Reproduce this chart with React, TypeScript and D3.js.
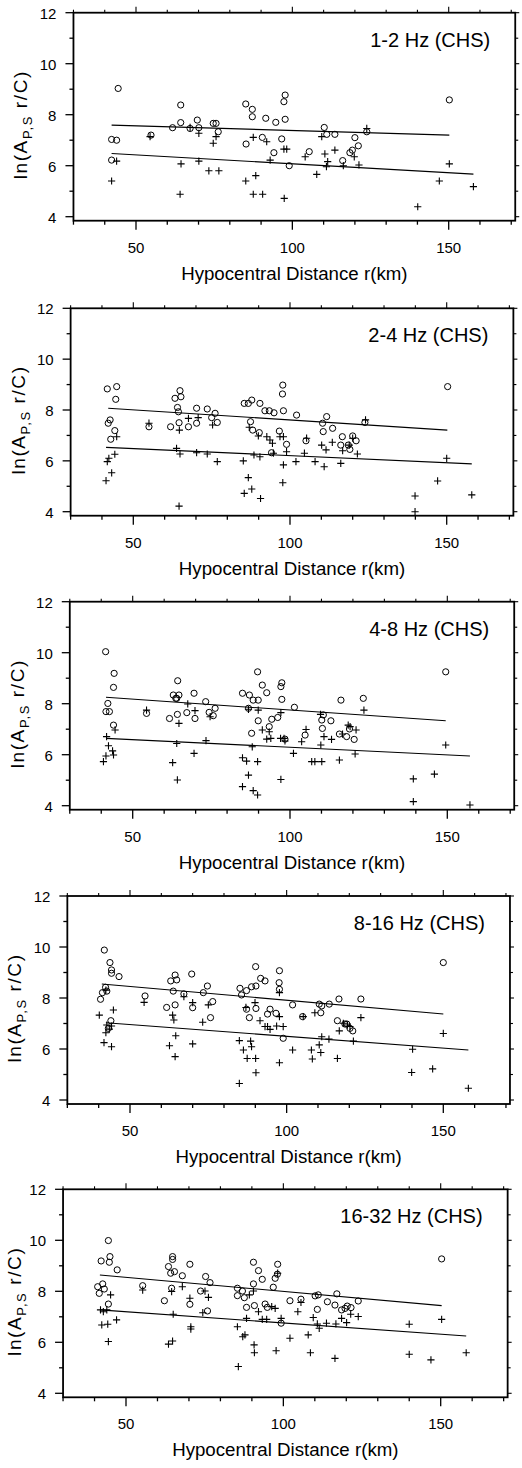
import React from 'react';
import * as d3 from 'd3';

type Pt = [number, number];

const panelLabels = ['1-2 Hz (CHS)', '2-4 Hz (CHS)', '4-8 Hz (CHS)', '8-16 Hz (CHS)', '16-32 Hz (CHS)'];
const xLabelTicks = [50, 100, 150];
const xMinorTicks = [30, 40, 60, 70, 80, 90, 110, 120, 130, 140, 160, 170];
const yLabelTicks = [4, 6, 8, 10, 12];
const yMinorTicks = [5, 7, 9, 11];
const xTitle = 'Hypocentral Distance r(km)';

// ---- Panel 1: 1-2 Hz ----
const p1Circles: Pt[] = [
  [44.3, 9.03], [42.2, 7.03], [43.8, 7.0], [42.2, 6.22], [54.8, 7.2], [61.7, 7.49], [64.3, 8.38], [64.3, 7.69],
  [67.3, 7.46], [69.6, 7.79], [70.1, 7.49], [74.7, 7.66], [75.6, 7.66], [76.3, 7.33], [85.1, 8.42], [87.2, 8.21],
  [87.2, 7.92], [91.5, 7.86], [94.7, 7.7], [97.7, 8.77], [97.3, 8.51], [97.7, 7.82], [96.6, 7.05], [90.4, 7.11],
  [85.2, 6.85], [94.1, 6.51], [99.0, 6.0], [105.4, 6.55], [110.2, 7.5], [111.0, 7.23], [113.6, 7.23], [116.1, 6.2],
  [118.4, 6.51], [119.2, 6.61], [120.0, 7.1], [121.1, 6.78], [123.8, 7.33], [150.2, 8.58],
];
const p1Crosses: Pt[] = [
  [42.2, 5.4], [43.8, 6.18], [54.5, 7.14], [64.4, 6.07], [64.1, 4.88], [67.3, 7.5], [70.1, 7.27], [70.1, 6.18],
  [73.3, 5.8], [76.5, 5.8], [74.7, 6.88], [75.6, 7.14], [85.1, 5.4], [87.5, 7.11], [88.3, 5.61], [87.5, 4.88],
  [90.5, 4.88], [91.8, 6.94], [92.9, 6.22], [97.3, 6.65], [98.2, 6.65], [97.4, 4.72], [104.1, 6.35], [107.8, 5.66],
  [109.4, 7.14], [110.4, 6.46], [111.3, 6.16], [110.9, 5.96], [113.6, 6.61], [116.3, 6.0], [119.8, 6.35], [121.3, 6.03],
  [123.8, 7.46], [140.1, 4.39], [147.0, 5.4], [150.2, 6.07], [157.9, 5.18],
];
const p1CircleFit: Pt[] = [[42.2, 7.59], [150.2, 7.2]];
const p1CrossFit: Pt[] = [[42.2, 6.48], [157.9, 5.67]];

// ---- Panel 2: 2-4 Hz ----
const p2Circles: Pt[] = [
  [41.7, 8.83], [44.7, 8.92], [44.4, 8.42], [42.6, 7.61], [42.0, 7.48], [42.8, 6.85], [44.1, 7.19], [55.0, 7.34],
  [61.9, 7.34], [63.3, 8.46], [64.9, 8.76], [65.2, 8.52], [64.1, 8.1], [64.4, 7.93], [64.6, 7.5], [67.6, 7.34],
  [70.2, 8.07], [70.2, 7.48], [73.6, 8.04], [75.0, 7.7], [76.1, 7.87], [76.8, 7.51], [85.4, 8.26], [86.7, 8.26],
  [87.8, 8.39], [87.4, 7.54], [88.1, 7.21], [90.4, 8.26], [90.2, 7.11], [92.0, 7.97], [93.4, 7.97], [94.9, 7.89],
  [94.1, 6.32], [96.6, 7.17], [97.7, 8.98], [97.6, 8.63], [97.9, 7.97], [98.9, 6.65], [102.1, 7.8], [105.1, 6.79],
  [110.4, 7.48], [111.7, 7.74], [110.6, 7.15], [113.6, 7.28], [116.7, 6.95], [116.2, 6.62], [118.6, 6.62], [119.1, 6.45],
  [120.0, 6.98], [121.1, 6.79], [123.9, 7.51], [150.3, 8.92],
];
const p2Crosses: Pt[] = [
  [41.3, 5.22], [41.7, 5.97], [42.2, 6.1], [43.1, 5.53], [44.1, 6.26], [44.7, 6.95], [55.0, 7.48], [63.8, 6.49],
  [64.7, 7.21], [64.9, 6.27], [64.6, 4.22], [67.6, 7.67], [70.2, 6.32], [70.7, 7.7], [73.6, 6.27], [75.3, 7.41],
  [76.8, 5.97], [85.1, 6.0], [85.4, 4.72], [86.7, 5.34], [87.8, 4.89], [87.0, 7.32], [88.5, 6.23], [90.4, 6.16],
  [90.6, 4.52], [89.9, 6.98], [92.6, 6.95], [93.6, 6.82], [94.4, 6.69], [94.7, 6.3], [96.8, 6.95], [97.9, 6.95],
  [97.9, 5.84], [97.7, 5.14], [98.9, 6.36], [101.9, 5.97], [104.6, 6.3], [105.3, 6.89], [108.0, 5.97], [110.1, 6.62],
  [110.9, 5.77], [111.5, 6.43], [113.5, 6.73], [116.2, 5.9], [116.8, 6.4], [118.9, 6.62], [120.0, 6.89], [121.5, 6.27],
  [124.1, 7.61], [139.9, 4.62], [139.9, 4.0], [147.1, 5.21], [150.0, 6.1], [158.0, 4.66],
];
const p2CircleFit: Pt[] = [[42.0, 8.07], [150.2, 7.21]];
const p2CrossFit: Pt[] = [[41.3, 6.53], [158.0, 5.88]];

// ---- Panel 3: 4-8 Hz ----
const p3Circles: Pt[] = [
  [41.4, 10.04], [44.1, 9.19], [43.9, 8.64], [42.1, 8.01], [41.5, 7.69], [42.6, 7.69], [43.9, 7.16], [54.4, 7.62],
  [61.7, 7.42], [62.9, 8.34], [63.7, 8.21], [64.3, 8.9], [64.7, 8.34], [64.0, 8.21], [64.2, 7.58], [67.2, 7.65],
  [69.5, 8.41], [69.8, 7.42], [73.2, 8.08], [74.3, 7.66], [75.6, 7.53], [76.2, 7.82], [84.9, 8.41], [87.1, 8.34],
  [88.3, 8.14], [89.9, 8.14], [86.8, 7.82], [89.7, 9.25], [89.9, 7.33], [87.8, 6.84], [91.2, 8.73], [92.6, 8.43],
  [93.4, 7.1], [94.2, 7.39], [96.1, 7.46], [97.4, 8.82], [97.1, 8.67], [97.4, 8.17], [98.4, 6.61], [101.4, 7.86],
  [104.8, 6.77], [110.1, 7.36], [110.6, 7.56], [110.3, 7.03], [113.0, 7.33], [116.2, 8.14], [115.7, 6.81], [118.0, 6.71],
  [118.9, 7.01], [120.4, 6.6], [123.3, 8.21], [149.5, 9.25],
];
const p3Crosses: Pt[] = [
  [40.7, 5.73], [41.5, 5.95], [41.7, 6.71], [42.3, 6.35], [43.9, 5.99], [44.4, 6.97], [43.6, 6.15], [54.4, 7.75],
  [62.7, 5.69], [64.0, 6.44], [64.2, 5.01], [64.7, 7.23], [67.5, 7.99], [69.5, 6.05], [69.8, 7.73], [73.3, 6.55],
  [74.6, 7.49], [84.9, 5.88], [84.9, 4.75], [86.2, 5.75], [86.8, 5.2], [86.8, 7.78], [88.0, 6.31], [88.3, 4.59],
  [89.7, 4.42], [89.7, 5.73], [89.9, 7.75], [91.2, 6.97], [92.6, 6.61], [93.9, 6.64], [93.4, 6.9], [97.0, 6.64],
  [98.1, 6.64], [97.1, 7.65], [97.1, 5.03], [98.4, 6.54], [101.1, 6.05], [103.7, 6.51], [105.1, 6.99], [106.9, 5.73],
  [107.9, 5.73], [109.8, 6.38], [110.1, 5.73], [109.7, 7.58], [110.8, 6.71], [113.2, 6.6], [115.7, 5.79], [116.7, 6.81],
  [118.5, 7.16], [119.1, 7.1], [121.0, 6.97], [120.7, 6.03], [123.5, 7.75], [139.2, 5.05], [139.2, 4.16], [145.9, 5.24],
  [149.5, 6.38], [157.2, 4.03],
];
const p3CircleFit: Pt[] = [[41.5, 8.25], [149.5, 7.33]];
const p3CrossFit: Pt[] = [[41.5, 6.64], [157.2, 5.95]];

// ---- Panel 4: 8-16 Hz ----
const p4Circles: Pt[] = [
  [41.8, 9.88], [40.6, 7.95], [41.2, 8.21], [42.2, 8.42], [42.6, 8.27], [43.6, 9.39], [44.1, 9.1], [44.1, 8.97],
  [46.5, 8.84], [43.9, 7.11], [43.1, 6.81], [54.8, 8.08], [61.7, 7.63], [63.0, 8.67], [63.8, 8.27], [64.4, 8.9],
  [64.9, 8.71], [64.4, 7.73], [67.2, 8.16], [69.7, 8.94], [70.0, 7.62], [73.4, 8.21], [74.7, 8.47], [75.7, 7.23],
  [76.4, 7.86], [85.1, 8.38], [85.6, 8.12], [87.2, 8.29], [88.8, 8.44], [87.2, 7.56], [88.1, 7.23], [90.1, 9.23],
  [90.2, 8.47], [90.2, 7.59], [91.7, 8.77], [93.1, 8.67], [94.7, 7.56], [93.9, 7.37], [96.6, 7.4], [97.7, 9.07],
  [97.6, 8.6], [97.7, 8.34], [98.9, 6.42], [101.9, 7.73], [105.1, 7.27], [110.4, 7.76], [110.9, 7.42], [111.2, 7.69],
  [113.6, 7.76], [116.7, 7.96], [116.2, 7.11], [118.6, 6.98], [119.2, 6.98], [120.2, 6.81], [121.1, 6.71], [123.7, 7.96],
  [150.0, 9.39],
];
const p4Crosses: Pt[] = [
  [40.2, 7.33], [41.7, 6.25], [42.3, 6.64], [42.6, 6.94], [42.3, 8.31], [43.4, 6.78], [44.1, 6.09], [44.7, 7.53],
  [44.1, 6.9], [54.5, 7.83], [62.6, 6.13], [63.6, 7.33], [64.4, 5.7], [64.6, 6.52], [64.0, 7.14], [67.2, 8.05],
  [70.0, 6.2], [70.0, 7.82], [73.2, 7.05], [75.0, 7.73], [84.9, 6.33], [84.9, 4.65], [86.2, 5.96], [87.4, 5.63],
  [87.0, 7.63], [88.5, 6.31], [88.8, 6.09], [90.1, 5.63], [90.2, 5.07], [89.9, 7.82], [91.5, 7.11], [93.1, 6.88],
  [93.9, 6.88], [94.7, 6.77], [96.8, 6.9], [98.9, 6.88], [97.7, 7.27], [97.7, 5.46], [97.7, 8.21], [101.9, 5.96],
  [105.3, 7.27], [107.9, 5.96], [108.2, 5.61], [109.0, 7.42], [110.4, 6.16], [110.9, 5.86], [111.2, 6.48], [113.5, 6.39],
  [116.2, 5.63], [116.8, 6.71], [118.1, 7.01], [119.4, 6.94], [120.2, 6.88], [121.3, 6.31], [123.7, 7.23], [140.2, 5.99],
  [139.9, 5.08], [146.6, 5.22], [150.0, 6.61], [158.0, 4.46],
];
const p4CircleFit: Pt[] = [[41.0, 8.55], [150.0, 7.37]];
const p4CrossFit: Pt[] = [[42.3, 7.03], [158.0, 5.96]];

// ---- Panel 5: 16-32 Hz ----
const p5Circles: Pt[] = [
  [44.4, 9.99], [42.1, 9.19], [44.9, 9.36], [44.7, 9.14], [47.2, 8.84], [41.0, 8.18], [41.5, 7.92], [42.6, 8.29],
  [43.1, 8.09], [44.4, 7.5], [55.3, 8.22], [62.2, 7.63], [63.5, 8.97], [64.8, 9.36], [64.8, 9.25], [64.2, 8.71],
  [65.4, 8.77], [64.5, 8.12], [67.9, 8.61], [70.3, 9.06], [70.3, 7.49], [73.7, 8.01], [75.3, 8.58], [76.7, 8.34],
  [75.9, 7.23], [85.4, 8.12], [85.4, 7.83], [87.0, 8.01], [87.6, 7.75], [88.3, 7.37], [90.5, 9.14], [90.5, 8.29],
  [90.8, 7.44], [92.1, 8.81], [93.3, 8.47], [94.2, 7.5], [94.9, 7.37], [96.8, 8.16], [97.4, 8.51], [98.2, 9.06],
  [98.1, 8.67], [99.3, 6.75], [102.1, 7.63], [105.6, 7.69], [110.1, 7.82], [111.1, 7.86], [110.8, 7.29], [114.0, 7.59],
  [116.4, 7.46], [117.0, 7.9], [118.5, 7.27], [119.6, 7.33], [120.3, 7.42], [121.5, 7.36], [123.8, 7.62], [150.3, 9.27],
];
const p5Crosses: Pt[] = [
  [41.9, 7.27], [42.3, 6.68], [42.8, 7.2], [43.9, 7.27], [44.2, 6.71], [44.4, 6.03], [45.1, 7.86], [47.0, 6.88],
  [55.3, 8.05], [63.5, 5.93], [64.8, 6.05], [64.5, 7.99], [65.0, 7.1], [67.9, 8.18], [70.3, 7.73], [70.6, 6.61],
  [70.6, 6.52], [74.4, 7.16], [75.1, 8.01], [76.2, 7.76], [85.4, 6.61], [85.7, 5.05], [87.1, 6.22], [87.8, 6.29],
  [88.3, 6.94], [89.2, 7.86], [90.5, 8.01], [90.7, 5.9], [90.8, 5.59], [92.1, 7.2], [93.3, 6.9], [94.7, 6.9],
  [96.3, 7.4], [97.4, 7.33], [97.7, 5.67], [98.2, 8.71], [99.3, 6.94], [102.1, 6.16], [104.6, 7.2], [105.6, 7.56],
  [107.9, 6.29], [108.6, 5.59], [109.5, 6.97], [110.8, 6.72], [111.4, 6.55], [113.7, 6.75], [116.4, 5.37], [116.7, 6.72],
  [118.5, 6.94], [120.1, 6.77], [121.4, 7.1], [123.8, 7.01], [140.0, 6.71], [140.0, 5.53], [146.9, 5.31], [150.3, 6.9],
  [158.1, 5.59],
];
const p5CircleFit: Pt[] = [[41.7, 8.64], [150.3, 7.44]];
const p5CrossFit: Pt[] = [[41.7, 7.27], [158.1, 6.25]];

const panelCircles = [p1Circles, p2Circles, p3Circles, p4Circles, p5Circles];
const panelCrosses = [p1Crosses, p2Crosses, p3Crosses, p4Crosses, p5Crosses];
const panelCircleFits = [p1CircleFit, p2CircleFit, p3CircleFit, p4CircleFit, p5CircleFit];
const panelCrossFits = [p1CrossFit, p2CrossFit, p3CrossFit, p4CrossFit, p5CrossFit];

// Layout (pixel anchors of the scan for each panel): x of 50 & 150 km, y of 4 & 12
const layouts = [
  { x50: 136.0, x150: 448.7, y4: 216.7, y12: 12.7 },
  { x50: 133.3, x150: 446.7, y4: 511.7, y12: 308.3 },
  { x50: 132.7, x150: 447.3, y4: 805.7, y12: 601.7 },
  { x50: 130.0, x150: 443.3, y4: 1100.0, y12: 896.0 },
  { x50: 126.0, x150: 440.7, y4: 1393.3, y12: 1189.3 },
];

const FONT = '"Liberation Sans", Arial, Helvetica, sans-serif';

function Panel({ idx }: { idx: number }) {
  const L = layouts[idx];
  const x = d3.scaleLinear().domain([50, 150]).range([L.x50, L.x150]);
  const y = d3.scaleLinear().domain([4, 12]).range([L.y4, L.y12]);
  const left = x(30);
  const right = x(170) + 4;
  const top = y(12);
  const bottom = y(4) + 4;
  const line = d3.line<Pt>().x(d => x(d[0])).y(d => y(d[1]));
  const cx = (left + right) / 2;
  const cy = (top + bottom) / 2;
  const allX = [...xLabelTicks, ...xMinorTicks];
  const yTitleX = Math.max(left - 46, 21);
  return (
    <g>
      {/* frame */}
      <rect x={left} y={top} width={right - left} height={bottom - top} fill="none" stroke="#000" strokeWidth={1.8} />
      {/* bottom ticks */}
      {allX.map(t => (
        <line key={'b' + t} x1={x(t)} x2={x(t)} y1={bottom} y2={bottom + (xLabelTicks.includes(t) ? 9 : 4)} stroke="#000" strokeWidth={1.3} />
      ))}
      {/* top ticks */}
      {allX.map(t => (
        <line key={'t' + t} x1={x(t)} x2={x(t)} y1={top} y2={top - (xLabelTicks.includes(t) ? 6 : 3)} stroke="#000" strokeWidth={1.1} />
      ))}
      {/* left ticks */}
      {[...yLabelTicks, ...yMinorTicks].map(t => (
        <line key={'l' + t} x1={left} x2={left - (yLabelTicks.includes(t) ? 8 : 4)} y1={y(t)} y2={y(t)} stroke="#000" strokeWidth={1.3} />
      ))}
      {/* right ticks */}
      {[...yLabelTicks, ...yMinorTicks].map(t => (
        <line key={'r' + t} x1={right} x2={right + (yLabelTicks.includes(t) ? 4 : 3)} y1={y(t)} y2={y(t)} stroke="#000" strokeWidth={1.1} />
      ))}
      {/* y tick labels */}
      {yLabelTicks.map(t => (
        <text key={'yl' + t} x={left - 17} y={y(t) + 6} textAnchor="end" fontSize={15} fontFamily={FONT} fill="#000">{t}</text>
      ))}
      {/* x tick labels */}
      {xLabelTicks.map(t => (
        <text key={'xl' + t} x={x(t)} y={y(4) + 36} textAnchor="middle" fontSize={15} fontFamily={FONT} fill="#000">{t}</text>
      ))}
      {/* x title */}
      <text x={cx} y={y(4) + 63} textAnchor="middle" fontSize={18.7} fontFamily={FONT} fill="#000">{xTitle}</text>
      {/* y title */}
      <text transform={`translate(${yTitleX},${cy + 8}) rotate(-90)`} textAnchor="middle" fontSize={19} fontFamily={FONT} fill="#000" letterSpacing={1.6}>
        ln(A<tspan fontSize={13} dy={5}>P,S</tspan><tspan dy={-5}> r/C)</tspan>
      </text>
      {/* panel label */}
      <text x={right - 25} y={top + 34} textAnchor="end" fontSize={20} fontFamily={FONT} fill="#000">{panelLabels[idx]}</text>
      {/* fit lines */}
      <path d={line(panelCircleFits[idx]) || ''} fill="none" stroke="#000" strokeWidth={1.1} />
      <path d={line(panelCrossFits[idx]) || ''} fill="none" stroke="#000" strokeWidth={1.1} />
      {/* circles */}
      {panelCircles[idx].map((d, i) => (
        <circle key={'c' + i} cx={x(d[0])} cy={y(d[1])} r={3.1} fill="none" stroke="#000" strokeWidth={1} />
      ))}
      {/* crosses */}
      {panelCrosses[idx].map((d, i) => (
        <path key={'p' + i} transform={`translate(${x(d[0])},${y(d[1])})`} d="M-3.6,0H3.6M0,-3.6V3.6" stroke="#000" strokeWidth={1.1} fill="none" />
      ))}
    </g>
  );
}

export default function App() {
  return (
    <svg width={522} height={1468} style={{ position: 'absolute', left: 0, top: 0, background: '#fff' }}>
      <rect x={0} y={0} width={522} height={1468} fill="#fff" />
      {panelLabels.map((_, i) => <Panel key={i} idx={i} />)}
    </svg>
  );
}
